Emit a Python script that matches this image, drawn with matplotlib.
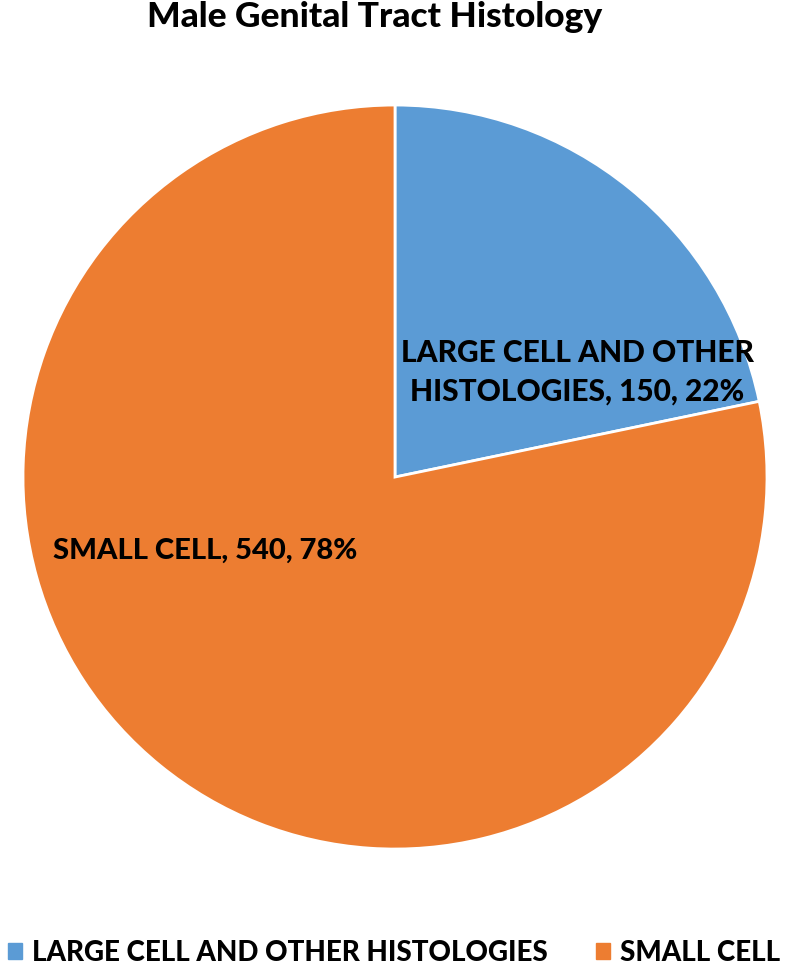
import matplotlib.pyplot as plt
from matplotlib.patches import Patch

# data
categories = ["LARGE CELL AND OTHER HISTOLOGIES", "SMALL CELL"]
counts = [150, 540]
pcts = ["22%", "78%"]
slice_labels = ["LARGE CELL AND OTHER\nHISTOLOGIES, 150, 22%", "SMALL CELL, 540, 78%"]
colors = ["#5B9BD5", "#ED7D31"]

plt.rcParams['font.family'] = ['Lato', 'DejaVu Sans']

fig = plt.figure(figsize=(8, 9.69), dpi=100)
ax = fig.add_axes([0.02875, 0.1238, 0.93, 0.7678])

wedges, _ = ax.pie(counts, colors=colors, startangle=90, counterclock=False,
                   wedgeprops=dict(edgecolor="white", linewidth=2))
ax.set_xlim(-1, 1)
ax.set_ylim(-1, 1)
ax.set_aspect("equal")
ax.axis("off")

# slice labels
ax.text(0.49, 0.282, slice_labels[0], ha="center", va="center",
        fontsize=21.5, fontweight="black", linespacing=1.45)
ax.text(-0.511, -0.199, slice_labels[1], ha="center", va="center",
        fontsize=21, fontweight="black")

fig.text(0.468, 0.982, "Male Genital Tract Histology", ha="center", va="center",
         fontsize=25.5, fontweight="black")

handles = [Patch(color=c) for c in colors]
fig.legend(handles, categories, loc="center left", bbox_to_anchor=(0.0, 0.0165),
           ncol=2, frameon=False, handlelength=0.5, handleheight=0.5,
           handletextpad=0.35, columnspacing=1.75, borderaxespad=0, borderpad=0.3,
           prop=dict(size=20, weight="black"))

fig.savefig("out.png", dpi=100)
